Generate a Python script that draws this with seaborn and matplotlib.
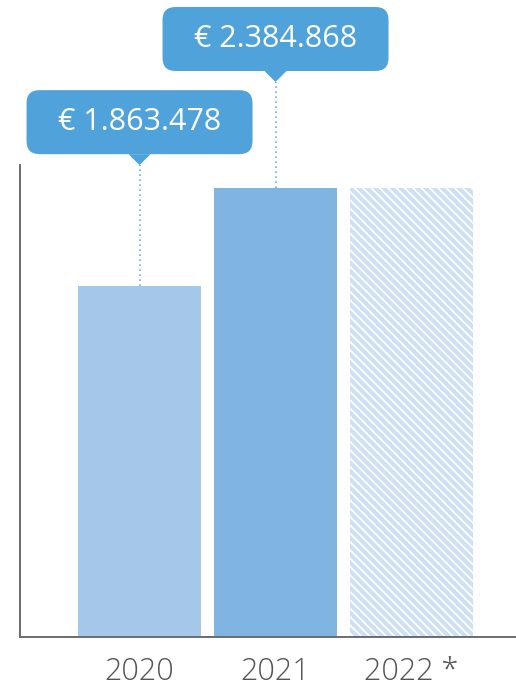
import matplotlib
matplotlib.use("Agg")
import matplotlib.pyplot as plt
import matplotlib.transforms as mtransforms
from matplotlib.patches import FancyBboxPatch, Polygon
import seaborn as sns

# data
years = ["2020", "2021", "2022 *"]
amounts = [1863478, 2384868, 2384868]
callout_labels = ["€ 1.863.478", "€ 2.384.868"]

bar_colors = ["#A4C7EA", "#80B4E1", "#CDE0F4"]
callout_color = "#4FA3DA"
# pixel distance between bar top and callout pointer tip
callout_lift = [121, 106]

sns.set_style("white")
plt.rcParams.update(
    {
        "font.family": ["Open Sans", "DejaVu Sans"],
        "hatch.linewidth": 1.3,
    }
)

W, H = 516, 693
fig = plt.figure(figsize=(W / 100, H / 100), dpi=100)
ax = fig.add_axes([20 / W, 56 / H, 495 / W, 472 / H])

sns.barplot(
    x=years,
    y=amounts,
    hue=years,
    palette=bar_colors,
    saturation=1,
    width=0.904,
    linewidth=0,
    legend=False,
    ax=ax,
)

# projected year: hatched bar
hatched = ax.containers[2].patches[0]
hatched.set_hatch("\\\\\\\\")
hatched.set_edgecolor("white")
hatched.set_linewidth(0)

ax.set_xlim(-0.879, 2.761)
ax.set_ylim(0, 2507000)
ax.set_yticks([])
ax.set_ylabel("")
ax.tick_params(axis="x", length=0, pad=14, labelsize=22, labelcolor="#555555")
for lab in ax.get_xticklabels():
    lab.set_fontweight("light")

for side in ["top", "right"]:
    ax.spines[side].set_visible(False)
for side in ["left", "bottom"]:
    ax.spines[side].set_color("#6b6b6b")
    ax.spines[side].set_linewidth(1.4)

# callouts with pointer and dotted leader line
box_w, box_h, tri_w, tri_h = 226, 64, 22, 11
for i, (label, lift) in enumerate(zip(callout_labels, callout_lift)):
    trans = mtransforms.IdentityTransform() + mtransforms.ScaledTranslation(
        i, amounts[i], ax.transData
    )
    ax.plot(
        [0, 0], [0, lift], transform=trans, color="#6AAEE2",
        linestyle=(0, (1, 2)), linewidth=1.2, clip_on=False, zorder=3,
    )
    tri = Polygon(
        [(-tri_w / 2, lift + tri_h), (tri_w / 2, lift + tri_h), (0, lift)],
        closed=True, transform=trans, facecolor=callout_color,
        edgecolor="none", clip_on=False, zorder=4,
    )
    ax.add_patch(tri)
    box = FancyBboxPatch(
        (-box_w / 2, lift + tri_h), box_w, box_h,
        boxstyle="round,pad=0,rounding_size=13", transform=trans,
        facecolor=callout_color, edgecolor="none", clip_on=False, zorder=4,
    )
    ax.add_patch(box)
    ax.text(
        0, lift + tri_h + box_h / 2, label, transform=trans, ha="center",
        va="center", color="white", fontsize=22, fontweight="medium",
        zorder=5, clip_on=False,
    )

fig.savefig("out.png", dpi=100)
